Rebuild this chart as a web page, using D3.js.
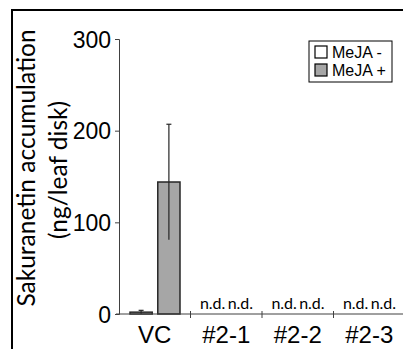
<!DOCTYPE html>
<html>
<head>
<meta charset="utf-8">
<script src="https://cdn.jsdelivr.net/npm/d3@7"></script>
<style>
  body { margin: 0; background: #fff; }
  svg { display: block; }
</style>
</head>
<body>
<svg id="chart"></svg>
<script>
var width = 403, height = 349

var categories = ["VC", "#2-1", "#2-2", "#2-3"]
var series = ["MeJA -", "MeJA +"]
var meanMinus = [2, 0, 0, 0]
var meanPlus = [144, 0, 0, 0]
var errMinus = [2, 0, 0, 0]
var errPlus = [63, 0, 0, 0]
var detected = [true, false, false, false]
var yTicks = [0, 100, 200, 300]

var svg = d3.select("#chart")
  .attr("width", width)
  .attr("height", height)
  .style("font-family", "Lato, 'Open Sans', sans-serif")

// frame (left + top border)
svg.append("path")
  .attr("d", "M12,349 L12,10 L403,10")
  .attr("fill", "none")
  .attr("stroke", "#000")
  .attr("stroke-width", 2)

var xScale = d3.scaleBand()
  .domain(categories)
  .range([119, 405])

var xSub = d3.scaleBand()
  .domain(series)
  .range([11, 61])
  .paddingInner(0.2)

var yScale = d3.scaleLinear()
  .domain([0, 300])
  .range([314, 39])

var fills = { "MeJA -": "#ffffff", "MeJA +": "#a6a6a6" }

var rows = []
categories.forEach(function(c, i) {
  rows.push({ cat: c, s: "MeJA -", v: meanMinus[i], e: errMinus[i], det: detected[i] })
  rows.push({ cat: c, s: "MeJA +", v: meanPlus[i], e: errPlus[i], det: detected[i] })
})

// y axis
var yAxis = svg.append("g")
  .attr("transform", "translate(119,0)")
  .call(d3.axisLeft(yScale).tickValues(yTicks).tickSize(4).tickPadding(4))
yAxis.select(".domain").attr("stroke", "#404040")
yAxis.selectAll(".tick line").attr("stroke", "#404040")
yAxis.selectAll("text")
  .style("font-size", "23px")
  .attr("fill", "#000")
  .attr("dy", "0.36em")

// bars
svg.append("g")
  .selectAll("rect")
  .data(rows)
  .enter()
  .append("rect")
  .attr("x", d => xScale(d.cat) + xSub(d.s))
  .attr("y", d => yScale(d.v))
  .attr("width", xSub.bandwidth())
  .attr("height", d => yScale(0) - yScale(d.v))
  .attr("fill", d => fills[d.s])
  .attr("stroke", "#262626")
  .attr("stroke-width", 1.5)

// error bars
var errs = svg.append("g")
  .selectAll("g")
  .data(rows.filter(d => d.det))
  .enter()
  .append("g")
  .attr("stroke", "#262626")
  .attr("stroke-width", 1.2)
errs.append("line")
  .attr("x1", d => xScale(d.cat) + xSub(d.s) + xSub.bandwidth() / 2)
  .attr("x2", d => xScale(d.cat) + xSub(d.s) + xSub.bandwidth() / 2)
  .attr("y1", d => yScale(d.v - d.e))
  .attr("y2", d => yScale(d.v + d.e))
errs.append("line")
  .attr("x1", d => xScale(d.cat) + xSub(d.s) + xSub.bandwidth() / 2 - 2.5)
  .attr("x2", d => xScale(d.cat) + xSub(d.s) + xSub.bandwidth() / 2 + 2.5)
  .attr("y1", d => yScale(d.v + d.e))
  .attr("y2", d => yScale(d.v + d.e))

// x axis
var xAxis = svg.append("g")
  .attr("transform", "translate(0," + yScale(0) + ")")
  .call(d3.axisBottom(xScale).tickSize(0).tickPadding(12))
xAxis.select(".domain").attr("stroke", "#404040").attr("d", "M116,0H403")
xAxis.selectAll("text")
  .style("font-size", "24px")
  .attr("fill", "#000")

// boundary ticks between groups
svg.append("g")
  .selectAll("line")
  .data(categories.slice(1))
  .enter()
  .append("line")
  .attr("x1", d => xScale(d))
  .attr("x2", d => xScale(d))
  .attr("y1", yScale(0) - 3)
  .attr("y2", yScale(0) + 4)
  .attr("stroke", "#404040")

// n.d. labels
svg.append("g")
  .selectAll("text")
  .data(rows.filter(d => !d.det))
  .enter()
  .append("text")
  .attr("x", d => xScale(d.cat) + xSub(d.s) + xSub.bandwidth() / 2)
  .attr("y", yScale(0) - 5)
  .attr("text-anchor", "middle")
  .style("font-size", "16px")
  .text("n.d.")

// y title
svg.append("text")
  .attr("transform", "translate(35,168) rotate(-90)")
  .attr("text-anchor", "middle")
  .style("font-size", "24.5px")
  .text("Sakuranetin accumulation")
svg.append("text")
  .attr("transform", "translate(67,170) rotate(-90)")
  .attr("text-anchor", "middle")
  .style("font-size", "24.5px")
  .text("(ng/leaf disk)")

// legend
var legend = svg.append("g")
  .attr("transform", "translate(309,41)")
legend.append("rect")
  .attr("width", 83)
  .attr("height", 41)
  .attr("fill", "#fff")
  .attr("stroke", "#000")
  .attr("stroke-width", 1)
var items = legend.selectAll(".item")
  .data(series)
  .enter()
  .append("g")
  .attr("transform", (d, i) => "translate(6," + (5 + i * 18) + ")")
items.append("rect")
  .attr("width", 12)
  .attr("height", 12)
  .attr("fill", d => fills[d])
  .attr("stroke", "#000")
  .attr("stroke-width", 1.2)
items.append("text")
  .attr("x", 17)
  .attr("y", 11.5)
  .style("font-family", "'Liberation Sans', Arial, sans-serif")
  .style("font-size", "16px")
  .text(d => d)
</script>
</body>
</html>
